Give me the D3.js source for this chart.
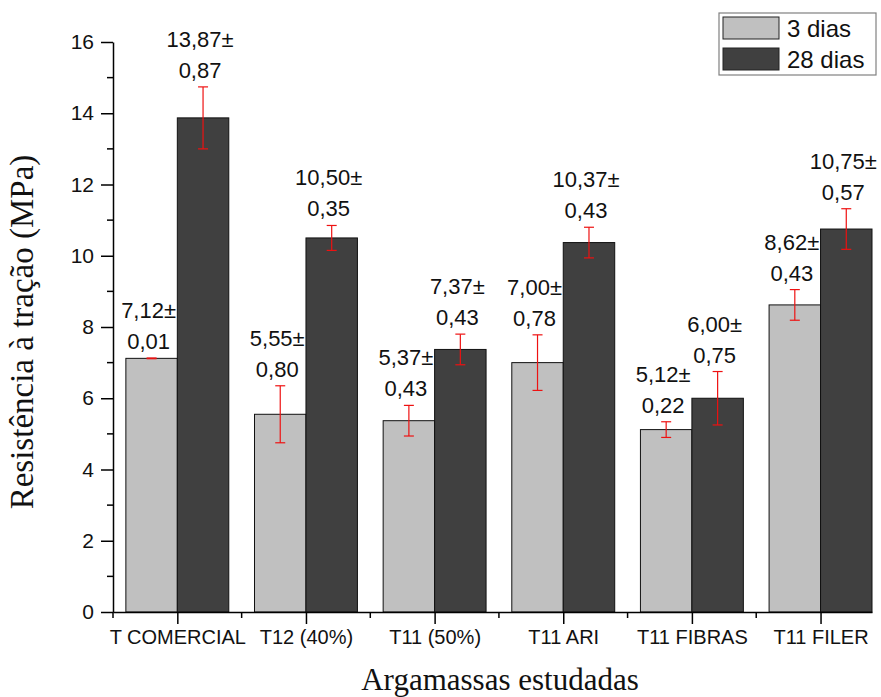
<!DOCTYPE html>
<html>
<head>
<meta charset="utf-8">
<script src="https://cdn.jsdelivr.net/npm/d3@7"></script>
<style>
  html, body { margin: 0; padding: 0; background: #fff; }
  svg { display: block; }
</style>
</head>
<body>
<svg id="chart" width="881" height="697"></svg>
<script>
// Tensile strength of the studied mortars at 3 and 28 days
const categories = ["T COMERCIAL", "T12 (40%)", "T11 (50%)", "T11 ARI", "T11 FIBRAS", "T11 FILER"];
const seriesNames = ["3 dias", "28 dias"];
const values3 = [7.12, 5.55, 5.37, 7.00, 5.12, 8.62];
const errors3 = [0.01, 0.80, 0.43, 0.78, 0.22, 0.43];
const values28 = [13.87, 10.50, 7.37, 10.37, 6.00, 10.75];
const errors28 = [0.87, 0.35, 0.43, 0.43, 0.75, 0.57];
const yTicks = [0, 2, 4, 6, 8, 10, 12, 14, 16];

const fmt = v => v.toFixed(2).replace(".", ",");
const colors = ["#c0c0c0", "#404040"];
const sans = "Arial, 'Liberation Sans', sans-serif";
const serif = "'Times New Roman', 'Liberation Serif', serif";
const svg = d3.select("#chart");

const x = d3.scaleLinear().domain([0.5, 6.4]).range([113, 872]);
const y = d3.scaleLinear().domain([0, 16]).range([612, 42]);
const barW = 0.4;

const series = [
  { name: seriesNames[0], values: values3, errors: errors3, offset: -barW, color: colors[0] },
  { name: seriesNames[1], values: values28, errors: errors28, offset: 0, color: colors[1] }
];

// Bars
series.forEach(s => {
  svg.append("g").selectAll("rect")
    .data(s.values)
    .join("rect")
    .attr("x", (d, i) => x(i + 1 + s.offset))
    .attr("width", x(1 + barW) - x(1))
    .attr("y", d => y(d))
    .attr("height", d => y(0) - y(d))
    .attr("fill", s.color)
    .attr("stroke", "#111")
    .attr("stroke-width", 1);
});

// Error bars
series.forEach(s => {
  const g = svg.append("g").attr("stroke", "#ee1111").attr("stroke-width", 1.2);
  s.values.forEach((v, i) => {
    const cx = x(i + 1 + s.offset + barW / 2);
    const e = s.errors[i];
    g.append("line").attr("x1", cx).attr("x2", cx).attr("y1", y(v - e)).attr("y2", y(v + e));
    g.append("line").attr("x1", cx - 5).attr("x2", cx + 5).attr("y1", y(v - e)).attr("y2", y(v - e));
    g.append("line").attr("x1", cx - 5).attr("x2", cx + 5).attr("y1", y(v + e)).attr("y2", y(v + e));
  });
});

// Value labels (mean ± deviation) above each error bar
series.forEach(s => {
  const g = svg.append("g")
    .attr("font-family", sans)
    .attr("font-size", 22)
    .attr("fill", "#111")
    .attr("text-anchor", "middle");
  s.values.forEach((v, i) => {
    const cx = x(i + 1 + s.offset + barW / 2) - 3;
    const top = y(v + s.errors[i]);
    g.append("text").attr("x", cx).attr("y", top - 40).text(fmt(v) + "±");
    g.append("text").attr("x", cx).attr("y", top - 9).text(fmt(s.errors[i]));
  });
});

// Y axis
const yAxis = d3.axisLeft(y).tickValues(yTicks).tickSize(12).tickSizeOuter(0).tickFormat(d3.format("d"));
const gy = svg.append("g").attr("transform", `translate(${x(0.5)},0)`).call(yAxis);
gy.select(".domain").attr("stroke", "#000").attr("stroke-width", 1.5);
gy.selectAll(".tick line").attr("stroke", "#000").attr("stroke-width", 1.5);
gy.selectAll(".tick text")
  .attr("font-family", sans)
  .attr("font-size", 21).attr("fill", "#111").attr("x", -19);
const yMinor = d3.range(1, 16, 2);
gy.append("g").selectAll("line").data(yMinor).join("line")
  .attr("x1", -6).attr("x2", 0).attr("y1", d => y(d)).attr("y2", d => y(d))
  .attr("stroke", "#000").attr("stroke-width", 1.5);

// X axis
const xAxis = d3.axisBottom(x).tickValues(d3.range(1, 7)).tickSize(12).tickSizeOuter(0)
  .tickFormat((d, i) => categories[i]);
const gx = svg.append("g").attr("transform", `translate(0,${y(0)})`).call(xAxis);
gx.select(".domain").attr("stroke", "#000").attr("stroke-width", 1.5);
gx.selectAll(".tick line").attr("stroke", "#000").attr("stroke-width", 1.5);
gx.selectAll(".tick text")
  .attr("font-family", sans)
  .attr("font-size", 20).attr("fill", "#111").attr("y", 18);
const xMinor = d3.range(0.5, 6.5, 1);
gx.append("g").selectAll("line").data(xMinor).join("line")
  .attr("x1", d => x(d)).attr("x2", d => x(d)).attr("y1", 0).attr("y2", 6)
  .attr("stroke", "#000").attr("stroke-width", 1.5);

// Axis titles
svg.append("text")
  .attr("x", 500).attr("y", 690)
  .attr("text-anchor", "middle")
  .attr("font-family", serif)
  .attr("font-size", 31).attr("fill", "#111")
  .text("Argamassas estudadas");
svg.append("text")
  .attr("transform", "translate(33,332) rotate(-90)")
  .attr("text-anchor", "middle")
  .attr("font-family", serif)
  .attr("font-size", 33).attr("fill", "#111")
  .text("Resistência à tração (MPa)");

// Legend
const lg = svg.append("g").attr("transform", "translate(719,13)");
lg.append("rect").attr("width", 157).attr("height", 62)
  .attr("fill", "#fff").attr("stroke", "#808080").attr("stroke-width", 1.2);
series.forEach((s, i) => {
  lg.append("rect").attr("x", 4).attr("y", 4 + i * 31).attr("width", 56).attr("height", 22)
    .attr("fill", s.color).attr("stroke", "#222").attr("stroke-width", 1);
  lg.append("text").attr("x", 68).attr("y", 24 + i * 31)
    .attr("font-family", sans)
    .attr("font-size", 24).attr("fill", "#111")
    .text(s.name);
});
</script>
</body>
</html>
